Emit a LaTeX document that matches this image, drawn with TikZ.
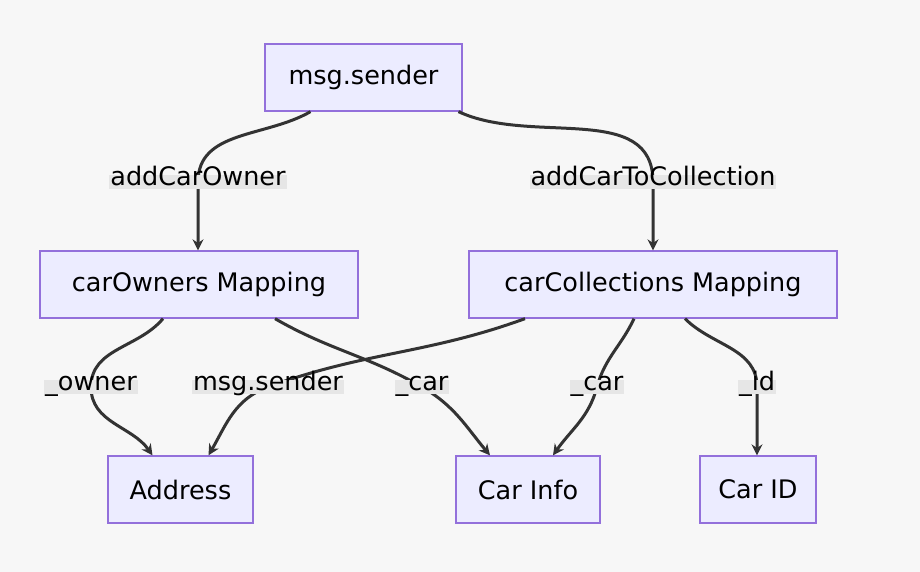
\documentclass[tikz,border=0pt]{standalone}
\usepackage{fontspec}
\setmainfont{DejaVu Sans}
\usetikzlibrary{arrows.meta}
\definecolor{bg}{HTML}{F7F7F7}
\definecolor{nf}{HTML}{ECECFF}
\definecolor{ns}{HTML}{9370DB}
\definecolor{lb}{HTML}{E6E6E6}
\begin{document}
\begin{tikzpicture}[x=1pt,y=-1pt,
 box/.style={draw=ns,fill=nf,line width=1.3pt,inner sep=0pt,font=\fontsize{25.5}{30}\selectfont},
 lab/.style={fill=lb,inner xsep=1pt,inner ysep=0pt,font=\fontsize{25.5}{30}\selectfont,text depth=0.35em,text height=1.0em},
 e/.style={draw=black!80,line width=3pt,-{Stealth[length=11pt,width=11pt]}}]
\fill[bg] (0,0) rectangle (920,572);
\useasboundingbox (0,0) rectangle (920,572);
\node[box,minimum width=197pt,minimum height=67pt] (ms) at (363.5,77.5) {msg.sender};
\node[box,minimum width=318pt,minimum height=67pt] (co) at (199,284.5) {carOwners Mapping};
\node[box,minimum width=368pt,minimum height=67pt] (cc) at (653,284.5) {carCollections Mapping};
\node[box,minimum width=145pt,minimum height=67pt] (ad) at (180.5,489.5) {Address};
\node[box,minimum width=144pt,minimum height=67pt] (ci) at (528,489.5) {Car Info};
\node[box,minimum width=116pt,minimum height=67pt] (id) at (758,489.5) {Car ID};
\coordinate (l1) at (198,182); \coordinate (l2) at (653,182);
\coordinate (l3) at (91,387); \coordinate (l4) at (268,387);
\coordinate (l5) at (422,387); \coordinate (l6) at (597,387);
\coordinate (l7) at (757,387);
\draw[e] ([xshift=-53pt]ms.south) to[out=-150,in=90] (l1) -- (co.north -| l1);
\draw[e] ([xshift=95pt]ms.south) to[out=-25,in=90] (l2) -- (cc.north -| l2);
\draw[e] ([xshift=-36pt]co.south) to[out=-130,in=90] (l3) to[out=-90,in=125] ([xshift=-28pt]ad.north);
\draw[e] ([xshift=-128pt]cc.south) to[out=-160,in=20] (l4) to[out=-160,in=60] ([xshift=28pt]ad.north);
\draw[e] ([xshift=76pt]co.south) to[out=-30,in=150] (l5) to[out=-30,in=130] ([xshift=-38pt]ci.north);
\draw[e] ([xshift=-19pt]cc.south) to[out=-115,in=75] (l6) to[out=-105,in=55] ([xshift=25pt]ci.north);
\draw[e] ([xshift=32pt]cc.south) to[out=-45,in=90] (l7) -- (id.north -| l7);
\node[lab] at (l1) {addCarOwner};
\node[lab] at (l2) {addCarToCollection};
\node[lab] at (l3) {\_owner};
\node[lab] at (l4) {msg.sender};
\node[lab] at (l5) {\_car};
\node[lab] at (l6) {\_car};
\node[lab] at (l7) {\_id};
\end{tikzpicture}
\end{document}
